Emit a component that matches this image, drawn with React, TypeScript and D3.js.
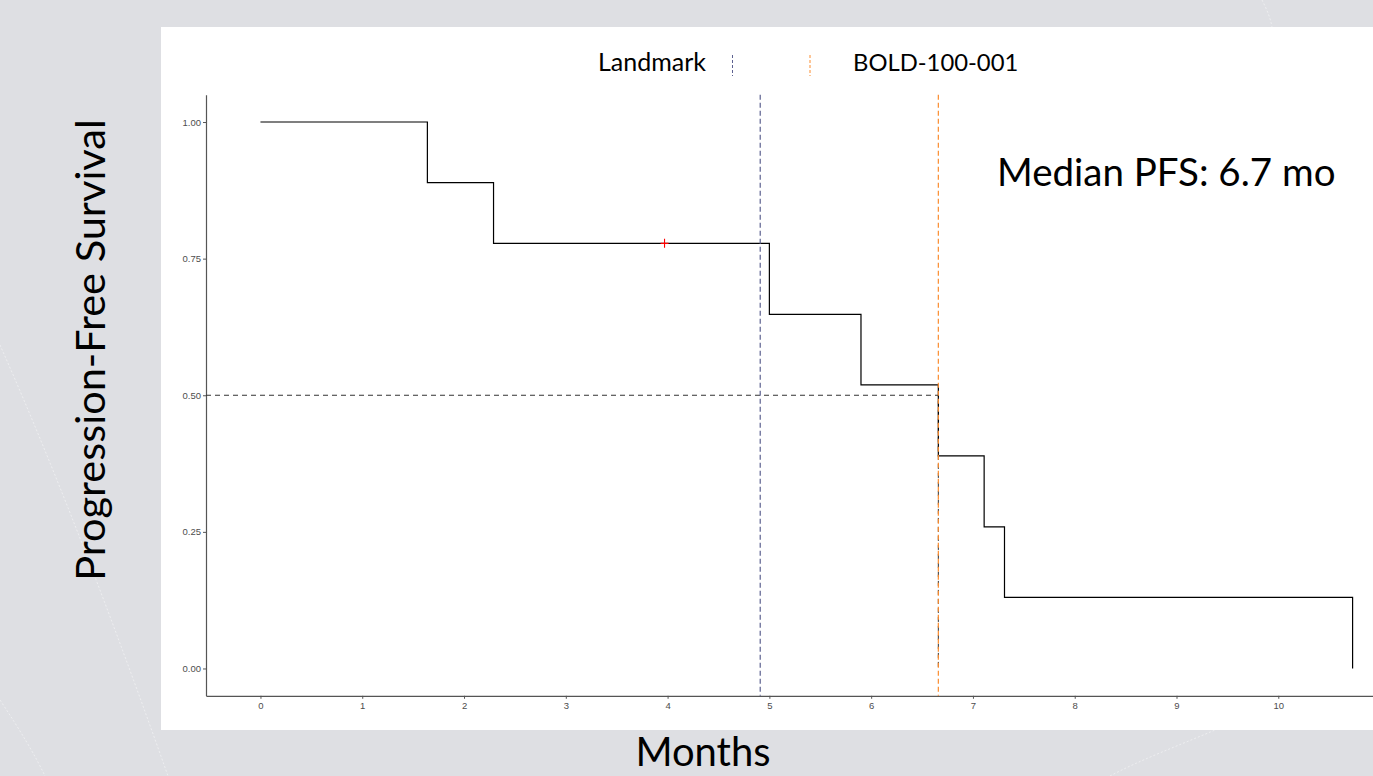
import React, { useEffect, useRef } from 'react';
import * as d3 from 'd3';

// Kaplan-Meier steps (months, survival probability)
const stepTimes = [0, 1.64, 2.29, 5.0, 5.9, 6.66, 7.11, 7.31, 10.73];
const stepSurv = [1.0, 0.889, 0.778, 0.648, 0.519, 0.389, 0.259, 0.13, 0.0];
const censorTimes = [3.97];
const censorSurv = [0.778];
const landmarkTime = 4.91;
const boldTime = 6.66;
const medianSurv = 0.5;
const xTicks = [0, 1, 2, 3, 4, 5, 6, 7, 8, 9, 10];
const yTicks = [0, 0.25, 0.5, 0.75, 1];
const legendLabels = ['Landmark', 'BOLD-100-001'];

const W = 1373;
const H = 776;
const FONT = 'Lato, "Open Sans", sans-serif';

export default function App() {
	const ref = useRef<SVGSVGElement | null>(null);

	useEffect(() => {
		const svg = d3.select(ref.current);
		svg.selectAll('*').remove();

		const x = d3.scaleLinear().domain([-0.535, 11.235]).range([206, 1404]);
		const y = d3.scaleLinear().domain([-0.05, 1.05]).range([695.8, 94.7]);

		// slide background
		svg.append('rect').attr('width', W).attr('height', H).attr('fill', '#dedfe3');
		const arcs = [
			'M0,345 C60,480 120,640 168,776',
			'M0,700 C20,730 35,755 45,776',
			'M1262,0 C1266,8 1270,16 1272,27',
			'M1110,776 C1140,760 1180,745 1215,730',
		];
		svg.append('g')
			.selectAll('path')
			.data(arcs)
			.enter()
			.append('path')
			.attr('d', (d) => d)
			.attr('fill', 'none')
			.attr('stroke', '#ffffff')
			.attr('stroke-opacity', 0.45)
			.attr('stroke-width', 1)
			.attr('stroke-dasharray', '2,2');

		// white plot panel
		svg.append('rect')
			.attr('x', 161)
			.attr('y', 27)
			.attr('width', W - 161)
			.attr('height', 703)
			.attr('fill', '#ffffff');

		// axes
		const yAxis = svg.append('g')
			.attr('transform', `translate(${x(-0.535)},0)`)
			.call(d3.axisLeft(y).tickValues(yTicks).tickFormat(d3.format('.2f')).tickSize(3).tickSizeOuter(0));
		const xAxis = svg.append('g')
			.attr('transform', `translate(0,${y(-0.05)})`)
			.call(d3.axisBottom(x).tickValues(xTicks).tickFormat(d3.format('d')).tickSize(3).tickSizeOuter(0));
		[yAxis, xAxis].forEach((g) => {
			g.select('.domain').attr('stroke', '#555555').attr('stroke-width', 1.2);
			g.selectAll('.tick line').attr('stroke', '#555555');
			g.selectAll('.tick text')
				.attr('fill', '#4d4d4d')
				.style('font-family', '"Liberation Sans", Arial, sans-serif')
				.style('font-size', '9.5px');
		});
		yAxis.selectAll('.tick text').attr('x', -5);
		xAxis.selectAll('.tick text').attr('y', 6);

		// median reference line (horizontal then vertical)
		svg.append('path')
			.attr('d', `M${x(-0.535)},${y(medianSurv)}H${x(boldTime)}V${y(0)}`)
			.attr('fill', 'none')
			.attr('stroke', '#333333')
			.attr('stroke-width', 1)
			.attr('stroke-dasharray', '5,4');

		// KM curve
		const line = d3.line<number>()
			.x((d, i) => x(stepTimes[i]))
			.y((d) => y(d))
			.curve(d3.curveStepAfter);
		svg.append('path')
			.attr('d', line(stepSurv))
			.attr('fill', 'none')
			.attr('stroke', '#000000')
			.attr('stroke-width', 1.2);

		// censor marks
		censorTimes.forEach((t, i) => {
			const cx = x(t);
			const cy = y(censorSurv[i]);
			svg.append('path')
				.attr('d', `M${cx - 4},${cy}H${cx + 4}M${cx},${cy - 4.5}V${cy + 4.5}`)
				.attr('stroke', '#ff0000')
				.attr('stroke-width', 1.1);
		});

		// landmark + study lines
		const vlines = [
			{ t: landmarkTime, color: '#5c6190' },
			{ t: boldTime, color: '#fb8c2e' },
		];
		vlines.forEach((v) => {
			svg.append('line')
				.attr('x1', x(v.t))
				.attr('x2', x(v.t))
				.attr('y1', y(1.05))
				.attr('y2', y(-0.05))
				.attr('stroke', v.color)
				.attr('stroke-width', 1.2)
				.attr('stroke-dasharray', '5,3');
		});

		// legend
		svg.append('text')
			.attr('x', 706)
			.attr('y', 71)
			.attr('text-anchor', 'end')
			.style('font-family', FONT)
			.style('font-size', '25px')
			.text(legendLabels[0]);
		svg.append('text')
			.attr('x', 853)
			.attr('y', 71)
			.style('font-family', FONT)
			.style('font-size', '23.8px')
			.text(legendLabels[1]);
		[{ px: 732.5, color: '#5c6190' }, { px: 810, color: '#fb8c2e' }].forEach((k) => {
			svg.append('line')
				.attr('x1', k.px)
				.attr('x2', k.px)
				.attr('y1', 55)
				.attr('y2', 76)
				.attr('stroke', k.color)
				.attr('stroke-width', 1)
				.attr('stroke-dasharray', '3,2');
		});

		// annotation
		svg.append('text')
			.attr('x', 997)
			.attr('y', 186)
			.style('font-family', FONT)
			.style('font-size', '38.5px')
			.text('Median PFS: 6.7 mo');

		// axis titles
		svg.append('text')
			.attr('x', 703)
			.attr('y', 766)
			.attr('text-anchor', 'middle')
			.style('font-family', FONT)
			.style('font-size', '40px')
			.text('Months');
		svg.append('text')
			.attr('transform', 'translate(105,350) rotate(-90)')
			.attr('text-anchor', 'middle')
			.style('font-family', FONT)
			.style('font-size', '41.5px')
			.text('Progression-Free Survival');
	}, []);

	return (
		<svg
			ref={ref}
			width={W}
			height={H}
			style={{ position: 'absolute', left: 0, top: 0, display: 'block' }}
		/>
	);
}
